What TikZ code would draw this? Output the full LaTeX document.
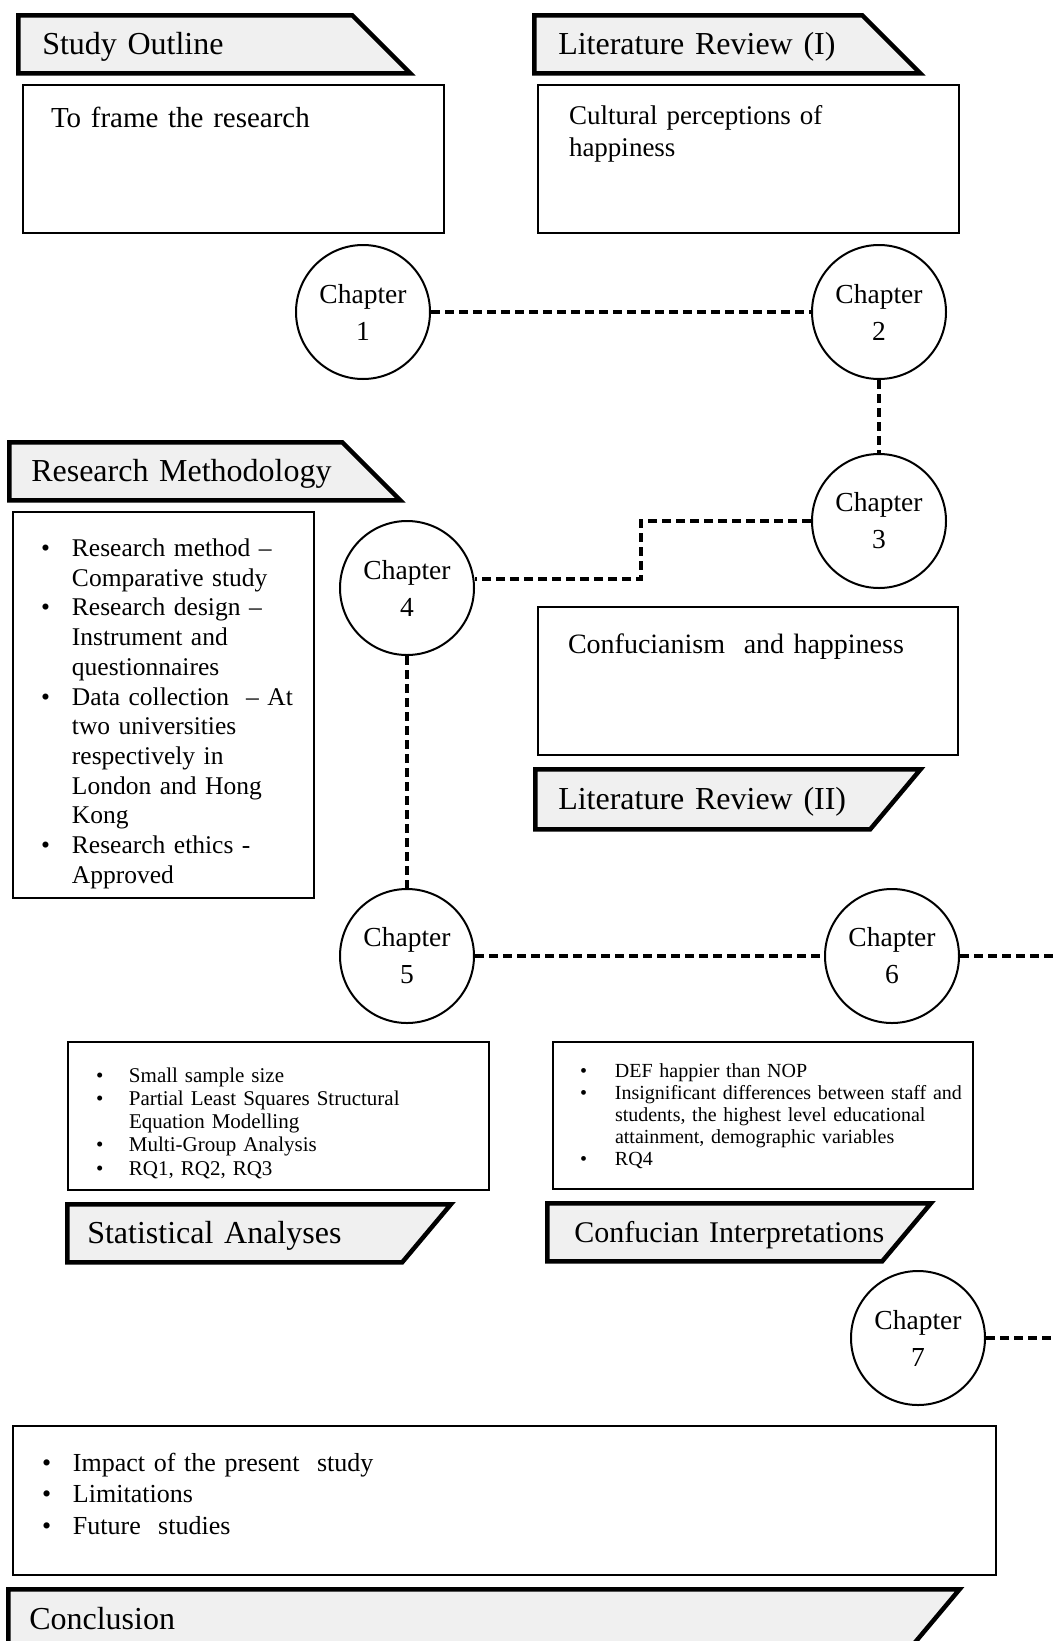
\documentclass[tikz,border=0pt]{standalone}
\usepackage{fontspec}
\setmainfont{Liberation Serif}
\usepackage{xcolor}
\usetikzlibrary{positioning, shapes.geometric}

\definecolor{bannergray}{RGB}{240,240,240}
\newcommand{\bul}{\textbullet}

\begin{document}
\begin{tikzpicture}[
  x=1pt, y=-1pt,
  banner/.style={trapezium, trapezium left angle=90, trapezium right angle=45,
                 draw, line width=4.5pt, fill=bannergray, align=left,
                 inner ysep=18.5pt, text height=21pt, text depth=0pt,
                 font=\fontsize{32}{36}\selectfont},
  bannerup/.style={banner, trapezium right angle=130},
  box/.style={draw, line width=2pt, fill=white, align=left, inner ysep=0pt},
  chap/.style={draw, circle, line width=2pt, fill=white, minimum size=134pt,
               inner sep=0pt, align=center, font=\fontsize{27.5}{37}\selectfont},
  link/.style={line width=3.5pt, dash pattern=on 9pt off 5pt}
]
  \useasboundingbox (0,0) rectangle (1053,1641);

  % chapter 1 and 2
  \node[banner, anchor=top left corner, inner xsep=24pt, text width=286pt] (outline) at (16,13) {Study Outline};
  \node[box, below right=8pt and 6pt of outline.bottom left corner, inner xsep=28pt,
        text width=365pt, text height=43pt, text depth=105pt,
        font=\fontsize{29}{33}\selectfont] (frame) {To frame the research};
  \node[banner, anchor=top left corner, inner xsep=24pt, text width=280pt] (lit1) at (532,13) {Literature Review (I)};
  \node[box, below right=8pt and 5pt of lit1.bottom left corner, inner xsep=31pt,
        text width=359pt, text height=40pt, text depth=108pt,
        font=\fontsize{27}{32}\selectfont] (culture) {Cultural perceptions of\\happiness};

  % chapter 3 and 4
  \node[banner, anchor=top left corner, inner xsep=22pt, text width=289pt] (method) at (7,440) {\mbox{Research Methodology}};
  \node[box, below right=8pt and 5pt of method.bottom left corner, inner xsep=28pt,
        text width=245pt, text height=45pt, text depth=341pt,
        font=\fontsize{25.5}{29.7}\selectfont] (design) {%
    \begin{tabular}[t]{@{}p{31pt}@{}l@{}}
      \bul & Research method –\\
           & Comparative study\\
      \bul & Research design –\\
           & Instrument and\\
           & questionnaires\\
      \bul & Data collection \ – At\\
           & two universities\\
           & respectively in\\
           & London and Hong\\
           & Kong\\
      \bul & Research ethics -\\
           & Approved
    \end{tabular}};
  \node[bannerup, anchor=top left corner, inner xsep=23pt, inner ysep=19.5pt, text width=289pt] (lit2) at (533,767) {Literature Review (II)};
  \node[box, above right=11pt and 4pt of lit2.top left corner, inner xsep=30pt,
        text width=360pt, text height=46pt, text depth=102pt,
        font=\fontsize{28}{32}\selectfont] (confu) {Confucianism \ and happiness};

  % chapter 5 and 6
  \node[bannerup, anchor=top left corner, inner xsep=20pt, text width=295pt] (stats) at (65,1202) {Statistical Analyses};
  \node[box, above right=11pt and 2pt of stats.top left corner, inner xsep=28pt,
        text width=365pt, text height=40pt, text depth=108pt,
        font=\fontsize{21}{23.3}\selectfont] (pls) {%
    \begin{tabular}[t]{@{}p{33pt}@{}l@{}}
      \bul & Small sample size\\
      \bul & Partial Least Squares Structural\\
           & Equation Modelling\\
      \bul & Multi-Group Analysis\\
      \bul & RQ1, RQ2, RQ3
    \end{tabular}};
  \node[bannerup, anchor=top left corner, inner xsep=27pt, text width=281pt,
        font=\fontsize{30}{34}\selectfont] (interp) at (545,1201) {\mbox{Confucian Interpretations}};
  \node[box, above right=11pt and 7pt of interp.top left corner, inner xsep=27pt,
        text width=366pt, text height=35pt, text depth=112pt,
        font=\fontsize{20}{22}\selectfont] (findings) {%
    \begin{tabular}[t]{@{}p{35pt}@{}l@{}}
      \bul & DEF happier than NOP\\
      \bul & Insignificant differences between staff and\\
           & students, the highest level educational\\
           & attainment, demographic variables\\
      \bul & RQ4
    \end{tabular}};

  % chapter 7
  \node[bannerup, anchor=top left corner, inner xsep=21pt, inner ysep=19.5pt, text width=859pt] (concl) at (6,1587) {Conclusion};
  \node[box, above right=11pt and 6pt of concl.top left corner, inner xsep=29pt,
        text width=925pt, text height=45pt, text depth=104pt,
        font=\fontsize{26}{31.5}\selectfont] (impact) {%
    \begin{tabular}[t]{@{}p{31pt}@{}l@{}}
      \bul & Impact of the present \ study\\
      \bul & Limitations\\
      \bul & Future \ studies
    \end{tabular}};

  % chapters
  \node[chap] (ch1) at (363,312) {Chapter\\1};
  \node[chap] (ch2) at (879,312) {Chapter\\2};
  \node[chap] (ch3) at (879,521) {Chapter\\3};
  \node[chap] (ch4) at (407,588) {Chapter\\4};
  \node[chap] (ch5) at (407,956) {Chapter\\5};
  \node[chap] (ch6) at (892,956) {Chapter\\6};
  \node[chap] (ch7) at (918,1338) {Chapter\\7};

  \coordinate (step34) at (641,579);
  \coordinate (edge6) at (1053,956);
  \coordinate (edge7) at (1053,1338);

  \draw[link] (ch1) -- (ch2);
  \draw[link] (ch2) -- (ch3);
  \draw[link] (ch3.west) -| (step34) -- (step34 -| ch4.east);
  \draw[link] (ch4) -- (ch5);
  \draw[link] (ch5) -- (ch6);
  \draw[link] (ch6) -- (edge6);
  \draw[link] (ch7) -- (edge7);
\end{tikzpicture}
\end{document}
